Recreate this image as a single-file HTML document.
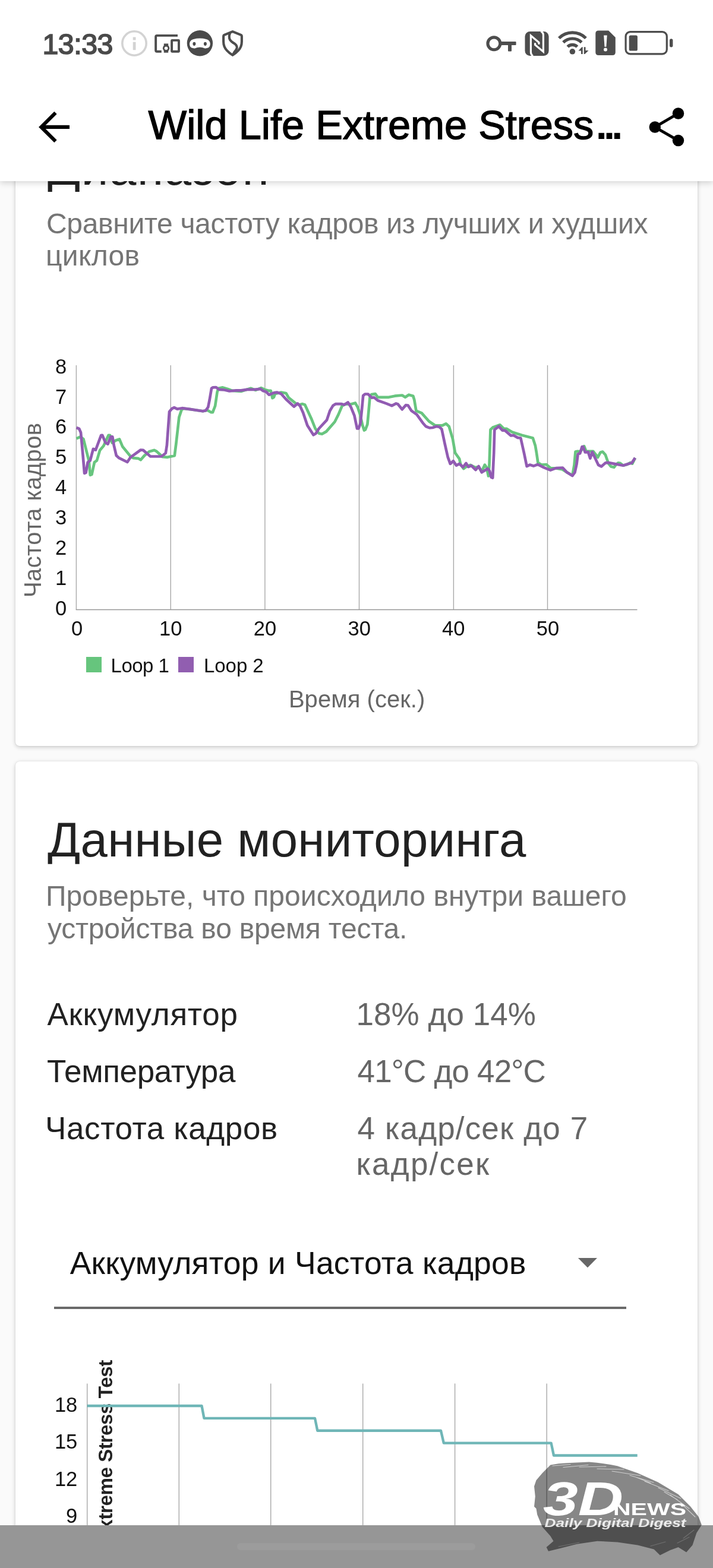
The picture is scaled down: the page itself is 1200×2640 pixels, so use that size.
<!DOCTYPE html>
<html lang="ru">
<head>
<meta charset="utf-8">
<title>Wild Life Extreme Stress Test</title>
<style>
html,body{margin:0;padding:0}
body{width:1200px;height:2640px;position:relative;overflow:hidden;background:#fafafa;font-family:"Liberation Sans",sans-serif}
.abs{position:absolute}
.t{position:absolute;white-space:pre;font-family:"Liberation Sans",sans-serif}
.card{position:absolute;left:26px;width:1148px;background:#fff;border-radius:7px;box-shadow:0 2px 7px rgba(0,0,0,.2),0 0 2px rgba(0,0,0,.1)}
.tick{position:absolute;font-size:31px;line-height:31px;color:#111;white-space:pre}
.rt{text-align:right}
.ct{text-align:center}
#hdr{position:absolute;left:0;top:0;width:1200px;height:305px;background:#fff;box-shadow:0 3px 10px rgba(0,0,0,.17)}
#nav{position:absolute;left:0;top:2567.7px;width:1200px;height:73px;background:#969696}
#pill{position:absolute;left:399px;top:2597.6px;width:401px;height:12.5px;border-radius:6.3px;background:#9c9c9c}
</style>
</head>
<body>
<div class="card" id="card1" style="top:180px;height:1076px"></div>
<div class="card" id="card2" style="top:1282px;height:1420px"></div>

<svg class="abs" style="left:0;top:0" width="1200" height="1300" viewBox="0 0 1200 1300">
<g stroke="#a8a8a8" stroke-width="1.4" fill="none"><line x1="128.4" y1="615" x2="128.4" y2="1026.5"/><line x1="287.25" y1="615" x2="287.25" y2="1026.5"/><line x1="445.9" y1="615" x2="445.9" y2="1026.5"/><line x1="604.5" y1="615" x2="604.5" y2="1026.5"/><line x1="763.4" y1="615" x2="763.4" y2="1026.5"/><line x1="921.5" y1="615" x2="921.5" y2="1026.5"/></g><line x1="127.7" y1="1026.5" x2="1072.5" y2="1026.5" stroke="#969696" stroke-width="1.3"/>
<polyline fill="none" stroke="#68c57f" stroke-width="4.7" stroke-linejoin="round" stroke-linecap="butt" points="128.6,738.4 135.4,735.3 140.5,739.4 145.6,759.9 149.7,776.3 151.8,799.9 154.4,798.9 158.9,778.4 163,775.3 168.2,757.9 174.3,750.7 182.5,732.9 185.2,732.9 188.7,745.6 194.8,741.5 201,739.4 206.1,751.7 220.4,769.2 224.5,771.2 232.7,771.8 236.8,774.3 243,767.1 251.2,760.3 259.4,757.9 263.5,759.9 273.7,769.2 281.9,769.8 293.8,767.1 296.3,747.6 301.4,702.5 305.5,690.2 308.6,687.8 320.9,689.2 341.4,692.3 349.2,690.7 355.4,694.2 358,694.2 362.1,683.5 365.6,660 367.7,653.8 374.8,652.4 384.1,655.3 391.2,657.9 405.6,658.9 422,653.8 430.2,656.9 439.4,653.2 445.6,655.9 452.7,657.9 455.8,657.9 458.5,670.2 460.9,668.8 463,663 473.2,660.6 481.4,662 485.5,669.2 497.8,679.4 504,681.5 509.1,680.1 513.2,681.5 524.5,706.1 530.6,721.5 536.8,729.7 541.9,730.7 549.1,726.6 563.4,710.2 569.6,697.9 575.7,683.5 580.5,680.5 590.7,680.5 597.9,678.4 602,685.6 606.1,697.9 610.2,716.3 612.9,724.5 614.9,723.5 618.4,714.3 620.5,691.7 622.5,669.2 625.2,664.1 631.7,663 635.8,668.8 654.3,668.8 664.5,666.7 676.8,665.5 682,668.8 688.1,664.7 695.3,666.7 697.3,673.3 700.4,691.7 709.6,695.4 721.9,709.2 732.2,716.3 744.5,716.3 750.6,713.3 755.7,718 761.9,738.9 766,762.4 773.2,772.7 775.2,781.9 780.3,789.1 784.4,786 791.6,782.9 800,787 805.6,786 810.7,794 815.9,782.6 818.9,787.1 822,801.4 823.5,783 825.5,723.5 829.2,719.8 841.5,715.3 847.6,721.5 852.8,721.9 862,727.6 878.4,732.8 896.8,737.5 900.9,750.2 903,762.5 905.4,778.9 911.2,782.6 919.4,782 926.5,788.1 935.8,788.5 946,790.1 954.2,795.3 963.4,800.5 966.5,783 968.5,760.6 972,759.8 976.8,760.4 983.1,751.2 986.5,759.8 998.4,759.8 1006.1,770 1010.4,761.8 1014.3,760.6 1018.9,765.8 1024,780.3 1028.3,785.4 1033.4,786.8 1036.9,782 1040.3,779.4 1043.7,779.9 1048.8,783.7 1055.6,782 1060.8,778.9 1064.2,780.6 1069,770.9"/>
<polyline fill="none" stroke="#915bb2" stroke-width="4.7" stroke-linejoin="round" stroke-linecap="butt" points="128.6,720 133.3,722 136,728.2 139.5,766 142.1,796.8 144.6,795.8 147.7,778.4 151.8,775.3 156.9,755.8 161,757.5 170.2,732.9 172.3,732.9 177.4,745.2 181.5,747.6 186.6,735.3 189.3,735.3 191.7,749.7 195.8,767.1 199.9,770.8 214.3,778 219.4,770.2 236.8,757.5 240.9,757.9 253.2,768.5 271.7,768.5 278.8,763 280.9,749.7 285,693.3 289.1,688.2 293.2,686.1 298.3,688.6 306.5,687.2 320.9,689.2 341.4,692.3 346.1,691.3 350.2,685.6 352.7,673.3 356,653.8 358.4,652.4 363.6,652 368.7,655.9 377.9,656.5 386.1,658.5 397.4,657.3 405.6,657.3 415.8,655.9 428.1,655.9 438.4,654.8 442.5,657.9 447.6,659.4 452.7,664.7 460.9,661.4 466,660.6 473.2,663 481.4,672.3 494.7,684.6 500.9,679.4 505,683.5 510.1,694.8 517.3,716.3 527.5,732.3 531.6,729.7 536.8,721.5 550.1,707.1 555.2,691.7 560.3,683.1 565.1,680.1 574.3,680.1 579.5,681.5 585.6,677.4 590.7,685.6 596.5,699.9 601,721.5 603.5,721.5 606.7,712.2 609.2,687.6 611.2,666.1 614.3,663.5 619.4,663.5 625.6,669.6 629.7,669.2 635.8,674.3 650.2,679.4 659.4,683.1 666.6,679.4 669.7,680.5 676.8,689.3 683,682.1 686.7,682.5 692.2,691.3 701.4,697.9 711.7,712.2 716.8,718 722.9,720.4 728.1,720 734.2,718 739.3,718.8 743.4,722.5 748.6,747.1 753.7,769.6 757.8,780.9 762.9,776.2 768,783.6 773.2,780.9 779.3,786.4 784.4,779.9 788.2,786 793.3,784 800.5,791.2 805.6,785 810.7,795.3 821,789.1 824.1,793.2 826.7,803.5 829.2,804.5 831.2,762.5 832.3,723.5 839.4,717.8 845.6,724.6 849.7,724.6 859.9,733.4 864,732.8 871.2,736.9 876.3,737.5 881.5,760.4 886.6,785 891.7,782.6 897.9,784.6 905,782 915.3,787.1 926.5,791.6 935.8,788.1 947,787.5 954.2,795.3 963.4,801 967.5,795.3 970.6,780.9 972.7,764.5 976.2,763.2 979.6,752.1 981.3,752.1 984.8,761.5 989.9,761.1 993.3,771.7 996.7,761.1 1001,770 1007,782.8 1012.1,785.4 1018.9,779.4 1023.2,778.9 1035.2,781.1 1048.8,783.7 1057.4,781.1 1063.3,779.4 1069,770.9"/>
</svg>

<!-- chart 1 labels -->
<div class="tick rt" style="left:12.3px;width:100px;top:1006.5px;font-size:34.5px;line-height:34.5px;color:#111">0</div>
<div class="tick rt" style="left:12.3px;width:100px;top:955.7px;font-size:34.5px;line-height:34.5px;color:#111">1</div>
<div class="tick rt" style="left:12.3px;width:100px;top:904.8px;font-size:34.5px;line-height:34.5px;color:#111">2</div>
<div class="tick rt" style="left:12.3px;width:100px;top:854.0px;font-size:34.5px;line-height:34.5px;color:#111">3</div>
<div class="tick rt" style="left:12.3px;width:100px;top:803.1px;font-size:34.5px;line-height:34.5px;color:#111">4</div>
<div class="tick rt" style="left:12.3px;width:100px;top:752.3px;font-size:34.5px;line-height:34.5px;color:#111">5</div>
<div class="tick rt" style="left:12.3px;width:100px;top:701.4px;font-size:34.5px;line-height:34.5px;color:#111">6</div>
<div class="tick rt" style="left:12.3px;width:100px;top:650.6px;font-size:34.5px;line-height:34.5px;color:#111">7</div>
<div class="tick rt" style="left:12.3px;width:100px;top:599.7px;font-size:34.5px;line-height:34.5px;color:#111">8</div>
<div class="tick ct" style="left:79.5px;width:100px;top:1040.6px;font-size:34.5px;line-height:34.5px;color:#111">0</div>
<div class="tick ct" style="left:237.3px;width:100px;top:1040.6px;font-size:34.5px;line-height:34.5px;color:#111">10</div>
<div class="tick ct" style="left:396.0px;width:100px;top:1040.6px;font-size:34.5px;line-height:34.5px;color:#111">20</div>
<div class="tick ct" style="left:554.7px;width:100px;top:1040.6px;font-size:34.5px;line-height:34.5px;color:#111">30</div>
<div class="tick ct" style="left:713.3px;width:100px;top:1040.6px;font-size:34.5px;line-height:34.5px;color:#111">40</div>
<div class="tick ct" style="left:872.0px;width:100px;top:1040.6px;font-size:34.5px;line-height:34.5px;color:#111">50</div>
<div class="tick rt" style="left:30.3px;width:100px;top:2347.9px;font-size:34.5px;line-height:34.5px;color:#111">18</div>
<div class="tick rt" style="left:30.3px;width:100px;top:2410.0px;font-size:34.5px;line-height:34.5px;color:#111">15</div>
<div class="tick rt" style="left:30.3px;width:100px;top:2472.5px;font-size:34.5px;line-height:34.5px;color:#111">12</div>
<div class="tick rt" style="left:30.3px;width:100px;top:2534.9px;font-size:34.5px;line-height:34.5px;color:#111">9</div>
<div class="abs" style="left:144.6px;top:1105.8px;width:26.2px;height:25.8px;background:#66c57d"></div>
<div class="abs" style="left:299.8px;top:1105.8px;width:26.6px;height:25.8px;background:#915eb0"></div>
<div class="t" id="yt" style="left:34.64px;top:1005.80px;font-size:40px;line-height:40px;color:#666;letter-spacing:0.382px;transform-origin:0 0;transform:rotate(-90deg)">Частота кадров</div>
<div class="t" id="yt2" style="left:161.10px;top:2740.81px;font-size:33.2px;line-height:33.2px;font-weight:700;color:#222;letter-spacing:-0.45px;transform-origin:0 0;transform:rotate(-90deg)">Wild Life Extreme Stress Test</div>

<div class="t" id="h1" style="left:80.00px;top:241.51px;font-size:81.5px;line-height:81.5px;font-weight:400;color:#212121;letter-spacing:1.619px;"><span style="display:inline-block;clip-path:inset(-10px -10px 0.1px -10px)">Д</span>иапазон</div>
<div class="t" id="s1a" style="left:78.00px;top:353.37px;font-size:48px;line-height:48px;font-weight:400;color:#757575;letter-spacing:-0.324px;">Сравните частоту кадров из лучших и худших</div>
<div class="t" id="s1b" style="left:77.00px;top:407.37px;font-size:48px;line-height:48px;font-weight:400;color:#757575;letter-spacing:0.303px;">циклов</div>
<div class="t" id="h2" style="left:80.00px;top:1372.71px;font-size:81.5px;line-height:81.5px;font-weight:400;color:#212121;letter-spacing:0.323px;"><span style="display:inline-block;clip-path:inset(-10px -10px -0.6px -10px)">Д</span>анные мониторинга</div>
<div class="t" id="s2a" style="left:77.00px;top:1485.37px;font-size:48px;line-height:48px;font-weight:400;color:#757575;letter-spacing:0.035px;">Проверьте, что происходило внутри вашего</div>
<div class="t" id="s2b" style="left:80.00px;top:1540.07px;font-size:48px;line-height:48px;font-weight:400;color:#757575;letter-spacing:-0.205px;">устройства во время теста.</div>
<div class="t" id="l1" style="left:79.40px;top:1680.74px;font-size:53px;line-height:53px;font-weight:400;color:#212121;letter-spacing:0.783px;">Аккумулятор</div>
<div class="t" id="l2" style="left:79.00px;top:1777.04px;font-size:53px;line-height:53px;font-weight:400;color:#212121;letter-spacing:-0.353px;">Температура</div>
<div class="t" id="l3" style="left:76.00px;top:1873.14px;font-size:53px;line-height:53px;font-weight:400;color:#212121;letter-spacing:0.625px;">Частота кадров</div>
<div class="t" id="v1" style="left:599.50px;top:1680.74px;font-size:53px;line-height:53px;font-weight:400;color:#666;letter-spacing:0.035px;">18% до 14%</div>
<div class="t" id="v2" style="left:601.50px;top:1777.04px;font-size:53px;line-height:53px;font-weight:400;color:#666;letter-spacing:-0.847px;">41°C до 42°C</div>
<div class="t" id="v3a" style="left:601.50px;top:1873.14px;font-size:53px;line-height:53px;font-weight:400;color:#666;letter-spacing:1.152px;">4 кадр/сек до 7</div>
<div class="t" id="v3b" style="left:599.50px;top:1933.34px;font-size:53px;line-height:53px;font-weight:400;color:#666;letter-spacing:2.210px;">кадр/сек</div>
<div class="t" id="lg1" style="left:186.60px;top:1103.57px;font-size:33px;line-height:33px;font-weight:400;color:#111;letter-spacing:-0.556px;">Loop 1</div>
<div class="t" id="lg2" style="left:343.00px;top:1103.57px;font-size:33px;line-height:33px;font-weight:400;color:#111;letter-spacing:-0.056px;">Loop 2</div>
<div class="t" id="xt" style="left:485.90px;top:1157.44px;font-size:40px;line-height:40px;font-weight:400;color:#666;letter-spacing:0.043px;">Время (сек.)</div>
<div class="t" id="dd" style="left:117.70px;top:2099.51px;font-size:53.5px;line-height:53.5px;font-weight:400;color:#111;letter-spacing:0.210px;">Аккумулятор и Частота кадров</div>

<!-- dropdown -->
<div class="abs" style="left:91px;top:2200.4px;width:963px;height:3.2px;background:#6a6a6a"></div>
<svg class="abs" style="left:970px;top:2115px" width="40" height="24" viewBox="0 0 40 24"><path d="M2.9 3.1 L35 3.1 L18.95 19.2 Z" fill="#676767"/></svg>

<svg class="abs" style="left:0;top:2280px" width="1200" height="300" viewBox="0 2280 1200 300">
<g stroke="#a8a8a8" stroke-width="1.4" fill="none">
<line x1="146.7" y1="2329.4" x2="146.7" y2="2580"/><line x1="301.3" y1="2329.4" x2="301.3" y2="2580"/><line x1="455.7" y1="2329.4" x2="455.7" y2="2580"/><line x1="610.7" y1="2329.4" x2="610.7" y2="2580"/><line x1="765.6" y1="2329.4" x2="765.6" y2="2580"/><line x1="920.2" y1="2329.4" x2="920.2" y2="2580"/>
</g>
<polyline fill="none" stroke="#6fb6b7" stroke-width="4.4" stroke-linejoin="round" points="146.6,2367 339.5,2367 343.5,2387.9 530,2387.9 534.3,2408.8 742,2408.8 746.8,2429.6 927.6,2429.6 932,2450.5 1072.7,2450.5"/>
</svg>


<!-- header -->
<div id="hdr"></div>
<div class="t" id="clock" style="left:71.50px;top:50.01px;font-size:48.3px;line-height:48.3px;font-weight:400;color:#4a4a4a;letter-spacing:-0.500px;-webkit-text-stroke:1.7px #4a4a4a;">13:33</div>
<div class="t" id="title" style="left:249.50px;top:177.31px;font-size:68.5px;line-height:68.5px;font-weight:400;color:#000;letter-spacing:-0.006px;-webkit-text-stroke:1.35px #000;">Wild Life Extreme Stress</div>
<div class="t" id="dots" style="left:1002.80px;top:177.31px;font-size:68.5px;line-height:68.5px;font-weight:700;color:#000;letter-spacing:-5.831px;">...</div>
<svg class="abs" style="left:0;top:0" width="1200" height="300" viewBox="0 0 1200 300">
<!-- back arrow -->
<g fill="none" stroke="#000" stroke-width="6.1" stroke-linecap="butt" stroke-linejoin="miter">
<path d="M117 213.9 H70.5"/><path d="M93.5 189.9 L69.4 213.9 L93.5 237.9"/>
</g>
<!-- share -->
<g fill="#000"><circle cx="1102.3" cy="214" r="9.75"/><circle cx="1141.5" cy="191" r="9.75"/><circle cx="1141.5" cy="236.6" r="9.75"/></g>
<path d="M1141.5 191 L1102.3 214 L1141.5 236.6" fill="none" stroke="#000" stroke-width="4.9"/>
<!-- info -->
<g><circle cx="226" cy="73" r="20.2" fill="none" stroke="#d3d3d3" stroke-width="3.6"/><rect x="223.7" y="62.5" width="4.8" height="5" fill="#d3d3d3"/><rect x="223.7" y="70.7" width="4.8" height="13.5" fill="#d3d3d3"/></g>
<!-- cast / devices -->
<g fill="none" stroke="#4d4d4d" stroke-width="3.9">
<path d="M299 59.85 H264.2 Q262.15 59.85 262.15 61.9 V84.7 Q262.15 86.75 264.2 86.75 H271.8"/>
<rect x="289.1" y="67.9" width="11.9" height="18.9" rx="0.5"/>
</g>
<rect x="275.8" y="73.4" width="7.4" height="15.3" fill="#4d4d4d"/><circle cx="279.6" cy="81.2" r="5.7" fill="#4d4d4d"/><circle cx="279.6" cy="81.2" r="2.8" fill="#fff"/>
<!-- ninja -->
<circle cx="336.4" cy="72.8" r="21.7" fill="#4a4a4a"/>
<path d="M319 73.8 Q319.4 67.6 325.6 66 Q331 64.6 336.4 64.6 Q341.8 64.6 347.2 66 Q353.4 67.6 353.8 73.8 Q353.6 79.2 350.2 80.6 Q347.6 81.6 345 81.4 Q340.5 79.5 336.4 79.5 Q332.3 79.5 327.8 81.4 Q325.2 81.6 322.6 80.6 Q319.2 79.2 319 73.8 Z" fill="#fff"/>
<ellipse cx="326.9" cy="73.8" rx="2.5" ry="3.1" fill="#4a4a4a"/><ellipse cx="345.4" cy="73.8" rx="2.5" ry="3.1" fill="#4a4a4a"/>
<!-- shield -->
<g fill="none" stroke="#4d4d4d" stroke-width="4.1" stroke-linejoin="round">
<path d="M391.5 53.1 L405.6 58.9 Q406.9 59.5 406.9 61 V70 Q406.9 79 401 85.1 Q397 89.4 391.5 92.8 Q386 89.4 382 85.1 Q376.1 79 376.1 70 V61 Q376.1 59.5 377.4 58.9 Z"/>
<path d="M387.3 55.6 Q384.3 61.5 387 66.8 Q389 70 395.3 73.8 Q399.4 76.8 398.6 81 Q397.6 84.5 394.6 87.5 L392 92"/>
</g>
<!-- key -->
<circle cx="831.4" cy="73.3" r="10.45" fill="none" stroke="#4d4d4d" stroke-width="5.1"/>
<rect x="842.5" y="70.1" width="26.1" height="6" rx="1" fill="#4d4d4d"/><rect x="855" y="74" width="6" height="12.4" rx="1" fill="#4d4d4d"/>
<!-- nfc -->
<rect x="883.5" y="53" width="40.1" height="40.9" rx="8.5" fill="#4d4d4d"/>
<g fill="none" stroke="#fff" stroke-width="3.2" stroke-linejoin="miter" stroke-linecap="butt">
<path d="M896.8 94.2 Q893.4 91.5 893.4 88 V60 L907 71.4 V74.8"/>
<path d="M910.4 52.6 Q914.4 55 914.4 58.5 V87 L900.6 75.6 V72.2"/>
</g>
<!-- wifi -->
<g fill="none" stroke="#4d4d4d" stroke-width="5.1" stroke-linecap="butt">
<path d="M940.8 64.2 A32 32 0 0 1 986 64.2"/>
<path d="M948 71.4 A21.8 21.8 0 0 1 978.8 71.4"/>
<path d="M955.3 78.7 A11.5 11.5 0 0 1 971.5 78.7"/>
</g>
<circle cx="963.4" cy="86.8" r="4.8" fill="#4d4d4d"/>
<path d="M973.5 85.6 L979.3 79.2 H980.7 V90.9 H978 V85.6 Z M990.5 85 L984.3 90.9 H982.8 V79.2 H985.5 V85 Z" fill="#4d4d4d"/>
<!-- sim -->
<path d="M1007.3 51.4 H1024.2 L1035.8 63 V88.1 Q1035.8 93.1 1030.8 93.1 H1007.3 Q1002.3 93.1 1002.3 88.1 V56.4 Q1002.3 51.4 1007.3 51.4 Z" fill="#4d4d4d"/>
<path d="M1016.2 59.6 H1021.7 L1020.4 78.7 H1017.5 Z" fill="#fff"/><circle cx="1019" cy="83.5" r="3" fill="#fff"/>
<!-- battery -->
<rect x="1053.1" y="53.7" width="69.2" height="37.1" rx="7.5" fill="none" stroke="#4d4d4d" stroke-width="3.2"/>
<rect x="1058.7" y="59.6" width="14.2" height="26" rx="2.6" fill="#4d4d4d"/>
<rect x="1127" y="65.3" width="5.4" height="14.1" rx="2.7" fill="#4d4d4d"/>
</svg>


<!-- nav bar -->
<div id="nav"></div>
<div id="pill"></div>
<svg class="abs" style="left:880px;top:2440px" width="320" height="200" viewBox="880 2440 320 200">
<path fill="rgba(0,0,0,0.47)" d="M899 2502.5 L902.5 2492.2 L912.7 2480.3 L926.4 2466.6 Q940 2463.6 953.7 2463.2 L991.3 2461.5 Q1016 2463.5 1039.1 2468.3 L1073.3 2480.3 L1107.4 2495.6 L1141.6 2516.1 L1162.1 2536.6 L1175.7 2553.7 L1180.9 2567.4 L1172.3 2581 L1165.5 2601.5 L1155.2 2613.5 L1141.6 2605 L1127.9 2610 L1110.8 2618.6 L1100.6 2608.4 L1073.3 2601.5 L1039.1 2596.4 L1005 2594.7 L970.8 2599.8 L943.5 2606.7 L923 2611.8 L919.6 2605 L931.5 2594.7 L926.4 2586.2 L912.7 2570.8 L904.2 2550.3 L902.5 2540 L899 2536.6 L900.8 2519.6 Z"/>
<g stroke="#fff" stroke-width="1.1" stroke-linecap="round" fill="none" opacity=".6">
<path d="M930 2468 L960 2465.5 M948 2470.5 L990 2466.5 M975 2470 L1020 2469 M1005 2473 L1050 2474 M1030 2477 L1078 2484.5 M1060 2484 L1100 2496 M1085 2494 L1125 2510 M1108 2505 L1146 2523 M1128 2517 L1160 2540 M1146 2531 L1170 2554 M1070 2487 L1095 2497 M1118 2512 L1140 2525"/>
<path d="M1150 2590 L1168 2576 M1140 2598 L1160 2588 M1095 2603 L1120 2596 M940 2604 L975 2597" stroke="#969696" opacity=".8"/>
</g>
<g fill="#fff" font-family="'Liberation Sans',sans-serif" font-weight="700">
<text x="914" y="2551.3" font-size="79" font-style="italic" textLength="135" lengthAdjust="spacingAndGlyphs">3D</text>
<text x="1032" y="2551.3" font-size="29.3" textLength="123" lengthAdjust="spacingAndGlyphs">NEWS</text>
<text x="916.5" y="2570.9" font-size="19.4" font-style="italic" textLength="238" lengthAdjust="spacingAndGlyphs" fill="rgba(255,255,255,.85)">Daily Digital Digest</text>
</g>
</svg>

</body>
</html>
